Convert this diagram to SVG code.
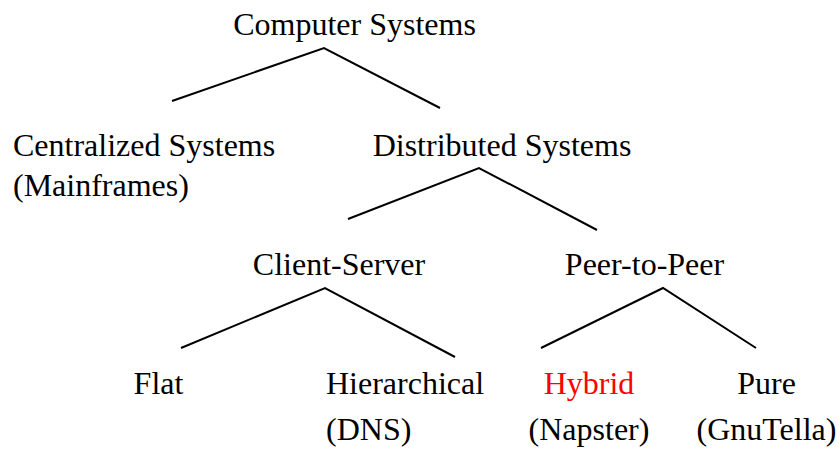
<svg xmlns="http://www.w3.org/2000/svg" width="840" height="450" viewBox="0 0 840 450">
<style>
.lbl{font-family:'Liberation Serif', 'Times New Roman', Times, serif;font-size:32px;fill:#000}
.red{fill:#ff0000}
.mid{text-anchor:middle}
.edge{stroke:#000;stroke-width:2;fill:none}
</style>
<rect width="840" height="450" fill="#fff"/>
<g id="connectors">
<polyline class="edge" points="172,101 324,48 440,108"/>
<polyline class="edge" points="348,219 479,168 597,230"/>
<polyline class="edge" points="181,348 325,288 455,357"/>
<polyline class="edge" points="541,348 663,288 756,348"/>
</g>
<g font-family="Liberation Serif, serif" font-size="32">
<g id="computer-systems"><text class="lbl mid" x="354.5" y="35">Computer Systems</text></g>
<g id="centralized-systems"><text class="lbl" x="13" y="156">Centralized Systems</text><text class="lbl" x="13" y="196">(Mainframes)</text></g>
<g id="distributed-systems"><text class="lbl mid" x="502" y="156">Distributed Systems</text></g>
<g id="client-server"><text class="lbl mid" x="339" y="275">Client-Server</text></g>
<g id="peer-to-peer"><text class="lbl mid" x="644.5" y="275">Peer-to-Peer</text></g>
<g id="flat"><text class="lbl mid" x="158.5" y="394">Flat</text></g>
<g id="hierarchical"><text class="lbl" x="326" y="394">Hierarchical</text><text class="lbl" x="326" y="440">(DNS)</text></g>
<g id="hybrid"><text class="lbl mid red" x="589" y="394">Hybrid</text><text class="lbl mid" x="589" y="440">(Napster)</text></g>
<g id="pure"><text class="lbl mid" x="766.5" y="394">Pure</text><text class="lbl mid" x="766.5" y="440">(GnuTella)</text></g>
</g>
</svg>
